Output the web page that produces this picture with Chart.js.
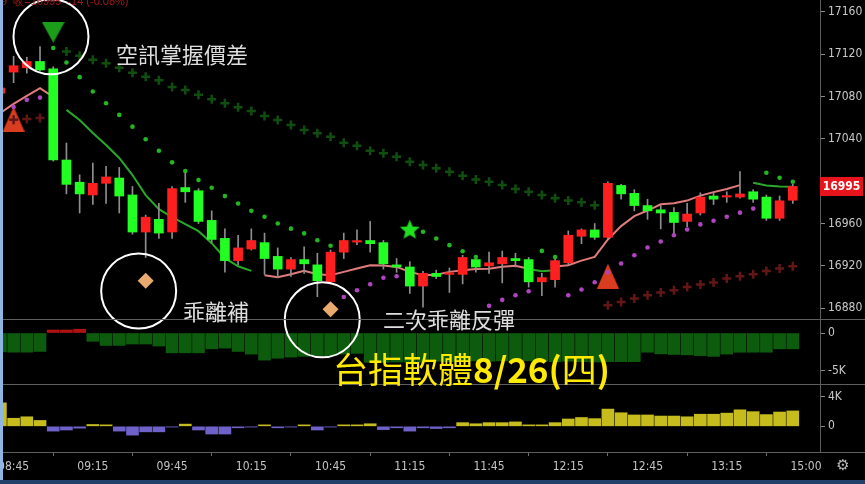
<!DOCTYPE html>
<html>
<head>
<meta charset="utf-8">
<script src="https://cdn.jsdelivr.net/npm/chart.js@4.4.1/dist/chart.umd.min.js"></script>
<style>
  html, body { margin: 0; padding: 0; background: #000; }
  #wrap { position: relative; width: 865px; height: 484px; }
</style>
</head>
<body>
<div id="wrap"><canvas id="canvas" width="865" height="484"></canvas></div>
<script>
"use strict"

// 5-minute bars, the first one (index -1) is the partly hidden bar at the left edge
const firstBar = -1;
const tickBars = [0, 6, 12, 18, 24, 30, 36, 42, 48, 54, 60];
const tickLabels = ['08:45', '09:15', '09:45', '10:15', '10:45', '11:15', '11:45', '12:15', '12:45', '13:15', '15:00'];
const priceTicks = [16880, 16920, 16960, 17040, 17080, 17120, 17160];
const histTicks = [-5000, 0];
const volTicks = [0, 4000];

const opens = [17083, 17103, 17107, 17113, 17106, 17020, 16999, 16987, 16998, 17003, 16987, 16952, 16964, 16952, 16994, 16991,
  16963, 16946, 16925, 16936, 16942, 16929, 16917, 16926, 16921, 16905, 16933, 16942.5, 16944, 16942, 16921, 16919,
  16901, 16913, 16912, 16912, 16926, 16920, 16922, 16927, 16926, 16905, 16907, 16923, 16948, 16954, 16947, 16996,
  16988.5, 16977, 16973, 16970.5, 16962, 16970, 16986, 16985, 16985, 16990, 16985, 16965, 16982];
const highs = [17091, 17118, 17117, 17127, 17108, 17036, 17006, 17017, 17014, 17013, 16995, 16968, 16979, 16995, 17011, 16993,
  16972, 16955, 16949, 16955, 16951, 16937, 16928, 16938, 16932, 16935, 16951, 16954, 16962, 16944, 16927, 16924,
  16915, 16916, 16918, 16930, 16930, 16933, 16934, 16932, 16928, 16913, 16927, 16953, 16955, 16960, 16999.5, 16997,
  16992, 16983, 16977, 16975, 16979, 16989, 16989, 16990, 17009, 16992, 16987, 16986, 16997];
const lows = [17080, 17093, 17102, 17104, 17019, 16988, 16970, 16978, 16979, 16970, 16950, 16928, 16946, 16946, 16980, 16960,
  16942, 16914, 16921, 16935, 16912, 16909, 16910, 16913, 16891, 16903, 16927, 16940, 16933, 16917, 16914, 16894,
  16881, 16908, 16895, 16903, 16914, 16913, 16904, 16919, 16900, 16892, 16900, 16921, 16941, 16945, 16946, 16983,
  16972, 16964, 16955, 16948, 16957, 16968, 16978, 16980, 16984, 16980, 16963, 16963, 16979];
const closes = [17088, 17109, 17113, 17105, 17020, 16997, 16988, 16998, 17004, 16986, 16952, 16966, 16951, 16993, 16990, 16962,
  16945, 16925, 16937, 16944, 16927, 16917, 16926, 16922, 16906, 16933, 16944, 16943.5, 16941, 16922, 16919, 16901,
  16913, 16910, 16913.5, 16928, 16919, 16923, 16928, 16925, 16905, 16909, 16925, 16949, 16954, 16947, 16998, 16988,
  16977, 16972, 16970, 16961, 16969, 16985, 16983, 16986, 16988, 16983, 16965, 16981.5, 16995];

// moving average, drawn pink when rising and green when falling
const maPink = [17064.5, 17073, 17080.5, 17087.8, 17079.6,
  null, null, null, null, null, null, null, null, null, null, null, null, null, null, null,
  16911.2, 16909.3, 16912.2, 16915.5, 16912.2, 16911.2, 16914.4, 16917.5, 16920.7, 16920.4, 16919.1, 16914.4,
  16911.2, 16911.7, 16914.4, 16916, 16917, 16917.4, 16919.3, 16920.2, 16917.4, null,
  16919.5, 16920.7, 16925, 16928.5, 16945, 16957.6, 16967, 16972.3, 16978.2, 16979.1, 16981.7, 16986.4, 16989.7,
  16992.6, 16996.3, null, null, null, null];
const maGreen = [null, null, null, null, null,
  17067.3, 17057.8, 17045.5, 17034.2, 17021.9, 17005.8, 16986.9, 16973.6, 16966.1, 16959.5, 16952.8, 16941.5,
  16927.3, 16919.7, 16915.3,
  null, null, null, null, null, null, null, null, null, null, null, null, null, null, null, null, null, null, null, null,
  16917, 16915, 16916,
  null, null, null, null, null, null, null, null, null, null, null, null, null, null,
  16998.5, 16995.9, 16995.1, 16994.7];

// stop dots above (green) and below (purple) the bars
const sarGreen = [null, null, null, null,
  17125.7, 17112, 17098.2, 17084.6, 17073.6, 17062.6, 17051.5, 17039.6, 17028.8, 17017.8, 17009.6, 17001.1,
  16993.8, 16985.9, 16979, 16972, 16966.4, 16960.1, 16955.2, 16950.7, 16944.3, 16939.1,
  null, null, null, null, null, null,
  16952.2, 16945.9, 16939.6, 16933.9, 16928.5,
  null, null, null, null,
  16934.2, 16928.5,
  null, null, null, null, null, null, null, null, null, null, null, null, null, null, null,
  17008, 17003.2, 16999.5];
const sarPurple = [null, 17070.1, 17076.8, 17078.9,
  null, null, null, null, null, null, null, null, null, null, null, null, null, null, null, null, null, null, null, null, null, null,
  16890.7, 16897, 16902.7, 16908.8, 16910.3,
  null, null, null, null, null, null,
  16882.3, 16888, 16892.3, 16896.1,
  null, null,
  16892.3, 16897.7, 16904.6, 16914, 16922.3, 16930.1, 16937.4, 16943.1, 16948.9, 16954.4, 16959.2, 16962.6,
  16966.4, 16970.3, 16974.1,
  null, null, null];

// band crosses
const bandUpper = [null, null, null, null, null,
  17122.4, 17118.4, 17114.6, 17111.3, 17107, 17102.3, 17098.5, 17095.2, 17089, 17086.2, 17081.5, 17077.4,
  17073.6, 17069.8, 17066.3, 17061.6, 17057.8, 17053.1, 17048.4, 17045.3, 17042, 17036.4, 17033.5, 17028.8,
  17026.3, 17023.1, 17018.4, 17015.3, 17012.1, 17009, 17005.2, 17001.7, 16999.5, 16996.3, 16992.6, 16990,
  16986.9, 16983.8, 16981.7, 16980, 16977.4,
  null, null, null, null, null, null, null, null, null, null, null, null, null, null, null];
const bandLower = [null, 17058, 17058.8, 17059.7,
  null, null, null, null, null, null, null, null, null, null, null, null, null, null, null, null, null,
  null, null, null, null, null, null, null, null, null, null, null, null, null, null, null, null, null,
  null, null, null, null, null, null, null, null,
  16882.8, 16885.9, 16889.2, 16892.3, 16894.8, 16897, 16900.1, 16902.4, 16904.3, 16908.1, 16910.3, 16912.2,
  16915.3, 16917.6, 16919.7];

const histVals = [-2500, -2540, -2540, -2450, 400, 400, 500, -1100, -1650, -1650, -1460, -1460, -1730, -2630, -2630, -2630,
  -2100, -2000, -2450, -2800, -3600, -3350, -3200, -3100, -3000, -3000, -2800, -2700, -3900, -3900, -3850, -3850,
  -3850, -3750, -3800, -3750, -3700, -3750, -3700, -3750, -3700, -3750, -3800, -3750, -3800, -3850, -3800, -3800,
  -3800, -2550, -2770, -2850, -2900, -3000, -3100, -2800, -2550, -2550, -2550, -2100, -2100];
const volVals = [3200, 1100, 1300, 800, -650, -500, -250, 250, 200, -650, -1200, -750, -750, -100, 300, -500,
  -1050, -1050, -200, -100, 200, -200, -100, 200, -500, -100, 200, 200, 350, -450, -200, -650,
  -200, -300, -200, 500, 350, 500, 500, 600, 200, 200, 500, 1000, 1200, 1050, 2350, 1850,
  1550, 1550, 1400, 1400, 1300, 1650, 1650, 1800, 2250, 2000, 1600, 1950, 2100];

// signal marks: [bar, price]
const buyMarks = [[0, 17058.6], [45, 16910.4]];
const sellMarks = [[3, 17140.6]];
const starMarks = [[30, 16953.8]];
const diamondMarks = [[10, 16906], [24, 16879]];
const noteCircles = [[2.83, 17136.3], [9.47, 16896.3], [23.37, 16869.1]];

const candleUp = '#ff1f1f';
const candleDown = '#22ff22';
const axisFont = { family: "'Liberation Sans Narrow', 'DejaVu Sans Condensed', 'Liberation Sans', sans-serif", size: 12 };
const cjk = '"Noto Sans CJK TC", "Noto Sans CJK SC", sans-serif';

function pts(arr) {
    return arr.map((v, k) => ({x: k + firstBar, y: v}));
}
function marks(arr) {
    return arr.map(m => ({x: m[0], y: m[1]}));
}

function triImage(w, h, color, down) {
    let c = document.createElement('canvas');
    c.width = w; c.height = h;
    let g = c.getContext('2d');
    g.fillStyle = color;
    g.beginPath();
    if (down) { g.moveTo(0, 0); g.lineTo(w, 0); g.lineTo(w / 2, h); }
    else { g.moveTo(w / 2, 0); g.lineTo(w, h); g.lineTo(0, h); }
    g.closePath();
    g.fill();
    return c;
}
function starImage(size, color) {
    let c = document.createElement('canvas');
    c.width = size; c.height = size;
    let g = c.getContext('2d');
    let R = size / 2, r = R * 0.45;
    g.fillStyle = color;
    g.beginPath();
    for (let k = 0; k < 10; k++) {
        let a = -Math.PI / 2 + k * Math.PI / 5;
        let rr = k % 2 ? r : R;
        g.lineTo(R + rr * Math.cos(a), R + rr * Math.sin(a));
    }
    g.closePath();
    g.fill();
    return c;
}

function fixedTicks(values) {
    return function (scale) { scale.ticks = values.map(v => ({value: v})); };
}
function kLabel(v) {
    return v === 0 ? '0' : (v / 1000) + 'K';
}
function rightAxis(min, max, weight, values, fmt) {
    return {
        type: 'linear', position: 'right', stack: 'panes', stackWeight: weight,
        min: min, max: max,
        afterBuildTicks: fixedTicks(values),
        afterFit: s => { s.width = 45; s.paddingTop = 0; s.paddingBottom = 0; },
        ticks: { color: '#c8c8c8', font: axisFont, padding: 3, callback: fmt },
        grid: { drawOnChartArea: false, drawTicks: true, tickLength: 5, color: '#8a8a8a' },
        border: { color: '#5c5c5c' }
    };
}

const decor = {
    id: 'decor',
    afterDraw(chart) {
        let ctx = chart.ctx;
        let W = chart.width;
        ctx.save();
        // panel separators
        ctx.strokeStyle = '#5e5e5e';
        ctx.lineWidth = 1;
        [chart.scales.y.bottom, chart.scales.yh.bottom, chart.scales.x.top].forEach(b => {
            let yy = Math.round(b) + 0.5;
            ctx.beginPath(); ctx.moveTo(0, yy); ctx.lineTo(W, yy); ctx.stroke();
        });

        // last price badge
        let ys = chart.scales.y;
        let last = closes[closes.length - 1];
        let py = ys.getPixelForValue(last);
        ctx.fillStyle = '#e8141c';
        ctx.fillRect(ys.left, py - 9.5, 43, 19);
        ctx.fillStyle = '#ffffff';
        ctx.font = 'bold 12px ' + axisFont.family;
        ctx.textAlign = 'center';
        ctx.textBaseline = 'middle';
        ctx.fillText(String(last), ys.left + 21.5, py + 0.5);

        // notes
        ctx.textAlign = 'left';
        ctx.fillStyle = '#dedede';
        ctx.font = '22px ' + cjk;
        ctx.fillText('空訊掌握價差', 116, 55);
        ctx.fillText('乖離補', 183, 312);
        ctx.fillText('二次乖離反彈', 383, 320);

        // title
        ctx.fillStyle = '#ffea00';
        let x = 333, ty = 370;
        let parts = [['台指軟體', 'normal'], ['8/26(', 'bold'], ['四', 'normal'], [')', 'bold']];
        parts.forEach(p => {
            ctx.font = p[1] + ' 35px ' + cjk;
            ctx.fillText(p[0], x, ty);
            x += ctx.measureText(p[0]).width;
        });

        // header line, cut by the top edge
        ctx.fillStyle = '#a01818';
        ctx.font = '11px "Liberation Sans", sans-serif';
        ctx.textBaseline = 'alphabetic';
        ctx.fillText('9  收=16995  -14 (-0.08%)', 1, 5);

        // settings glyph
        ctx.fillStyle = '#b8b8b8';
        ctx.font = '15px "DejaVu Sans", sans-serif';
        ctx.textAlign = 'center';
        ctx.textBaseline = 'middle';
        ctx.fillText('\u2699', 843, 466);

        // window frame
        ctx.fillStyle = '#8fb5e2';
        ctx.fillRect(0, 0, 3, chart.height);
        ctx.fillStyle = '#22406a';
        ctx.fillRect(0, chart.height - 4, W, 4);
        ctx.restore();
    }
};

let ctx = document.getElementById('canvas').getContext('2d');
let myChart = new Chart(ctx, {
    type: 'line',
    data: {
        datasets: [
            {
                label: 'notes', data: marks(noteCircles), showLine: false, clip: false, order: 0,
                pointStyle: 'circle', pointRadius: 37.5, pointBorderWidth: 2,
                pointBorderColor: '#ffffff', pointBackgroundColor: 'rgba(0,0,0,0)'
            },
            {
                label: 'sar up', data: pts(sarGreen), showLine: false, order: 1,
                pointRadius: 2.3, pointBorderWidth: 0, pointBackgroundColor: '#22b622'
            },
            {
                label: 'sar down', data: pts(sarPurple), showLine: false, order: 1,
                pointRadius: 2.3, pointBorderWidth: 0, pointBackgroundColor: '#b044c0'
            },
            {
                type: 'bar', label: 'body', order: 2, grouped: false, barThickness: 9, minBarLength: 1.5,
                data: opens.map((o, k) => ({x: k + firstBar, y: [Math.min(o, closes[k]), Math.max(o, closes[k])]})),
                backgroundColor: opens.map((o, k) => closes[k] >= o ? candleUp : candleDown)
            },
            {
                type: 'bar', label: 'wick', order: 3, grouped: false, barThickness: 1,
                data: lows.map((l, k) => ({x: k + firstBar, y: [l, highs[k]]})),
                backgroundColor: '#8e8e8e'
            },
            {
                label: 'band up', data: pts(bandUpper), showLine: false, order: 4,
                pointStyle: 'cross', pointRadius: 4.5, pointBorderWidth: 2.5, pointBorderColor: '#104e10'
            },
            {
                label: 'band down', data: pts(bandLower), showLine: false, order: 4,
                pointStyle: 'cross', pointRadius: 4.5, pointBorderWidth: 2.5, pointBorderColor: '#621616'
            },
            {
                label: 'ma', data: pts(maPink), order: 5, spanGaps: false,
                borderColor: '#e07c7c', borderWidth: 2, pointRadius: 0
            },
            {
                label: 'ma down', data: pts(maGreen), order: 5, spanGaps: false,
                borderColor: '#2aa82a', borderWidth: 2, pointRadius: 0
            },
            {
                label: 'buy', data: marks(buyMarks), showLine: false, order: 6,
                pointStyle: triImage(22, 25, '#d93c1e', false), pointRadius: 10
            },
            {
                label: 'sell', data: marks(sellMarks), showLine: false, order: 6,
                pointStyle: triImage(23, 21, '#1b9c1b', true), pointRadius: 10
            },
            {
                label: 'star', data: marks(starMarks), showLine: false, order: 6,
                pointStyle: starImage(21, '#20e020'), pointRadius: 10
            },
            {
                label: 'gap', data: marks(diamondMarks), showLine: false, order: 6,
                pointStyle: 'rectRot', pointRadius: 8, pointBorderWidth: 0, pointBackgroundColor: '#e8aa6e'
            },
            {
                type: 'bar', label: 'hist', yAxisID: 'yh', order: 7, grouped: false, barThickness: 12,
                data: pts(histVals),
                backgroundColor: histVals.map(v => v >= 0 ? '#b01212' : '#0d5c0d')
            },
            {
                type: 'bar', label: 'vol', yAxisID: 'yv', order: 7, grouped: false, barThickness: 12,
                data: pts(volVals),
                backgroundColor: volVals.map(v => v >= 0 ? '#c6bc1e' : '#6e62c8')
            }
        ]
    },
    options: {
        responsive: false,
        animation: false,
        devicePixelRatio: 1,
        events: [],
        layout: { padding: 0, autoPadding: false },
        plugins: { legend: { display: false }, tooltip: { enabled: false } },
        scales: {
            x: {
                type: 'linear', position: 'bottom', min: -1.03, max: 61.06, offset: false,
                afterBuildTicks: fixedTicks(tickBars),
                afterFit: s => { s.height = 32; s.paddingLeft = 0; s.paddingRight = 0; },
                ticks: {
                    color: '#c4c4c4', font: axisFont, padding: 4, maxRotation: 0, autoSkip: false,
                    callback: (v, i) => tickLabels[i]
                },
                grid: { drawOnChartArea: false, drawTicks: true, tickLength: 4, color: '#6a6a6a' },
                border: { color: '#5c5c5c' }
            },
            y: rightAxis(16869.9, 17171.05, 319, priceTicks, v => String(v)),
            yh: rightAxis(-6770, 1860, 65, histTicks, kLabel),
            yv: rightAxis(-3500, 5770, 68, volTicks, kLabel)
        }
    },
    plugins: [decor]
});
</script>
</body>
</html>
